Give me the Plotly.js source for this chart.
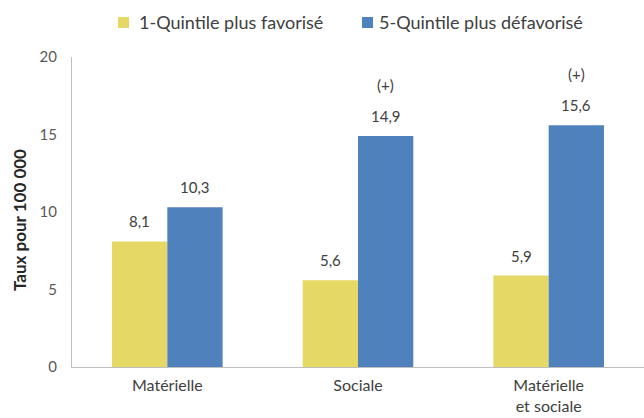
<!DOCTYPE html>
<html><head><meta charset="utf-8">
<script src="https://cdn.plot.ly/plotly-3.0.1.min.js"></script>
<style>body{margin:0;background:#fff}#c{width:644px;height:418px}</style>
</head><body><div id="c"></div>
<script>
var categories = ["Matérielle", "Sociale", "Matérielle<br>et sociale"];
var seriesNames = ["1-Quintile plus favorisé", "5-Quintile plus défavorisé"];
var seriesColors = ['#E6D865', '#4F81BD'];
var q1Values = [8.1, 5.6, 5.9];
var q5Values = [10.3, 14.9, 15.6];
var q5Significant = [false, true, true];
var yTicks = [0, 5, 10, 15, 20];
var yTitle = 'Taux pour 100 000';

function fmt(v){ return v.toFixed(1).replace('.', ','); }

var W = 644, H = 418, ML = 72, MR = 0, MT = 57, MB = 51;
var PW = W - ML - MR, PH = H - MT - MB;
function px2x(px){ return (px - ML) / PW; }
function py2y(py){ return (H - MB - py) / PH; }

var font = "Lato, 'Open Sans', sans-serif";
var traces = [
  {type:'bar', name:seriesNames[0], x:categories, y:q1Values,
   marker:{color:seriesColors[0]}, hoverinfo:'none'},
  {type:'bar', name:seriesNames[1], x:categories, y:q5Values,
   marker:{color:seriesColors[1]}, hoverinfo:'none'}
];
var annotations = [];
var shapes = [];
var half = 27.5;
categories.forEach(function(c, i){
  annotations.push({x:c, y:q1Values[i], xref:'x', yref:'y', text:fmt(q1Values[i]),
    showarrow:false, xshift:-half, yshift:20, yanchor:'middle',
    font:{size:15,color:'#404040'}});
  annotations.push({x:c, y:q5Values[i], xref:'x', yref:'y', text:fmt(q5Values[i]),
    showarrow:false, xshift:half, yshift:20, yanchor:'middle',
    font:{size:15,color:'#404040'}});
  if (q5Significant[i]) {
    annotations.push({x:c, y:q5Values[i], xref:'x', yref:'y', text:'(+)',
      showarrow:false, xshift:half, yshift:51, yanchor:'middle',
      font:{size:15,color:'#404040'}});
  }
});
// legend (manual)
var legendItems = [{mx:118, tx:137}, {mx:362, tx:377}];
legendItems.forEach(function(it, k){
  shapes.push({type:'rect', xref:'paper', yref:'paper',
    x0:px2x(it.mx), x1:px2x(it.mx+11), y0:py2y(28), y1:py2y(17),
    fillcolor:seriesColors[k], line:{width:0}});
  annotations.push({xref:'paper', yref:'paper', x:px2x(it.tx), y:py2y(22),
    xanchor:'left', yanchor:'middle', text:seriesNames[k], showarrow:false,
    font:{size:18,color:'#404040'}});
});
// y title
annotations.push({xref:'paper', yref:'paper', x:px2x(19), y:py2y(220),
  xanchor:'center', yanchor:'middle', textangle:-90, text:'<b>'+yTitle+'</b>',
  showarrow:false, font:{size:17,color:'#262626'}});

var layout = {
  width:W, height:H,
  margin:{l:ML, r:MR, t:MT, b:MB},
  paper_bgcolor:'#fff', plot_bgcolor:'#fff',
  font:{family:font, size:15, color:'#404040'},
  barmode:'group', bargap:0.42, bargroupgap:0,
  showlegend:false,
  annotations:annotations, shapes:shapes,
  xaxis:{showline:true, linecolor:'#BFBFBF', linewidth:1, ticks:'', showgrid:false,
         tickfont:{size:16,color:'#404040'}, ticklabelstandoff:4, automargin:false},
  yaxis:{range:[0,20], tickvals:yTicks, ticktext:yTicks.map(String), showline:true,
         linecolor:'#BFBFBF', linewidth:1, showgrid:false, zeroline:false, ticks:'',
         tickfont:{size:15,color:'#595959'}, ticklabelstandoff:11, automargin:false}
};
Plotly.newPlot('c', traces, layout, {displayModeBar:false, staticPlot:true});
</script></body></html>
